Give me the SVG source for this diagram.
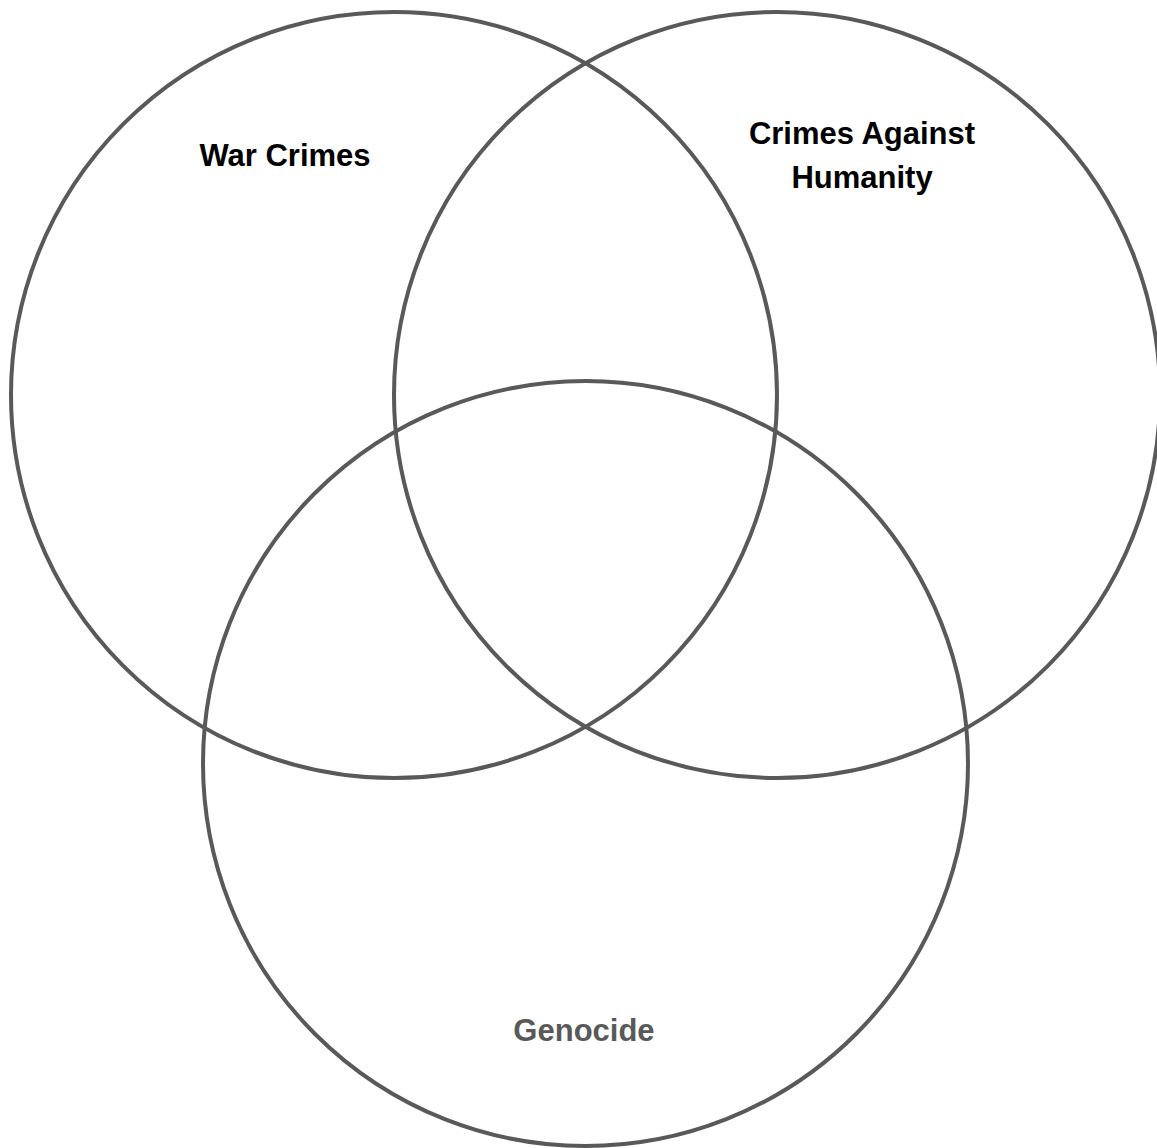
<svg xmlns="http://www.w3.org/2000/svg" width="1157" height="1148" viewBox="0 0 1157 1148">
<style>
.c{fill:none;stroke:#595959;stroke-width:4}
.t{font-family:"Liberation Sans",Arial,sans-serif;font-weight:bold;font-size:31px;text-anchor:middle}
</style>
<rect width="1157" height="1148" fill="#fff"/>
<g id="war-crimes">
<circle class="c" cx="394" cy="395" r="383"/>
<text class="t" x="285" y="166" fill="#000">War Crimes</text>
</g>
<g id="crimes-against-humanity">
<circle class="c" cx="777" cy="395" r="383"/>
<text class="t" x="862" y="144" fill="#000">Crimes Against</text>
<text class="t" x="862" y="188" fill="#000">Humanity</text>
</g>
<g id="genocide">
<circle class="c" cx="585.5" cy="763.5" r="382.5"/>
<text class="t" x="584" y="1041" fill="#595959">Genocide</text>
</g>
<g id="connectors"/>
</svg>
